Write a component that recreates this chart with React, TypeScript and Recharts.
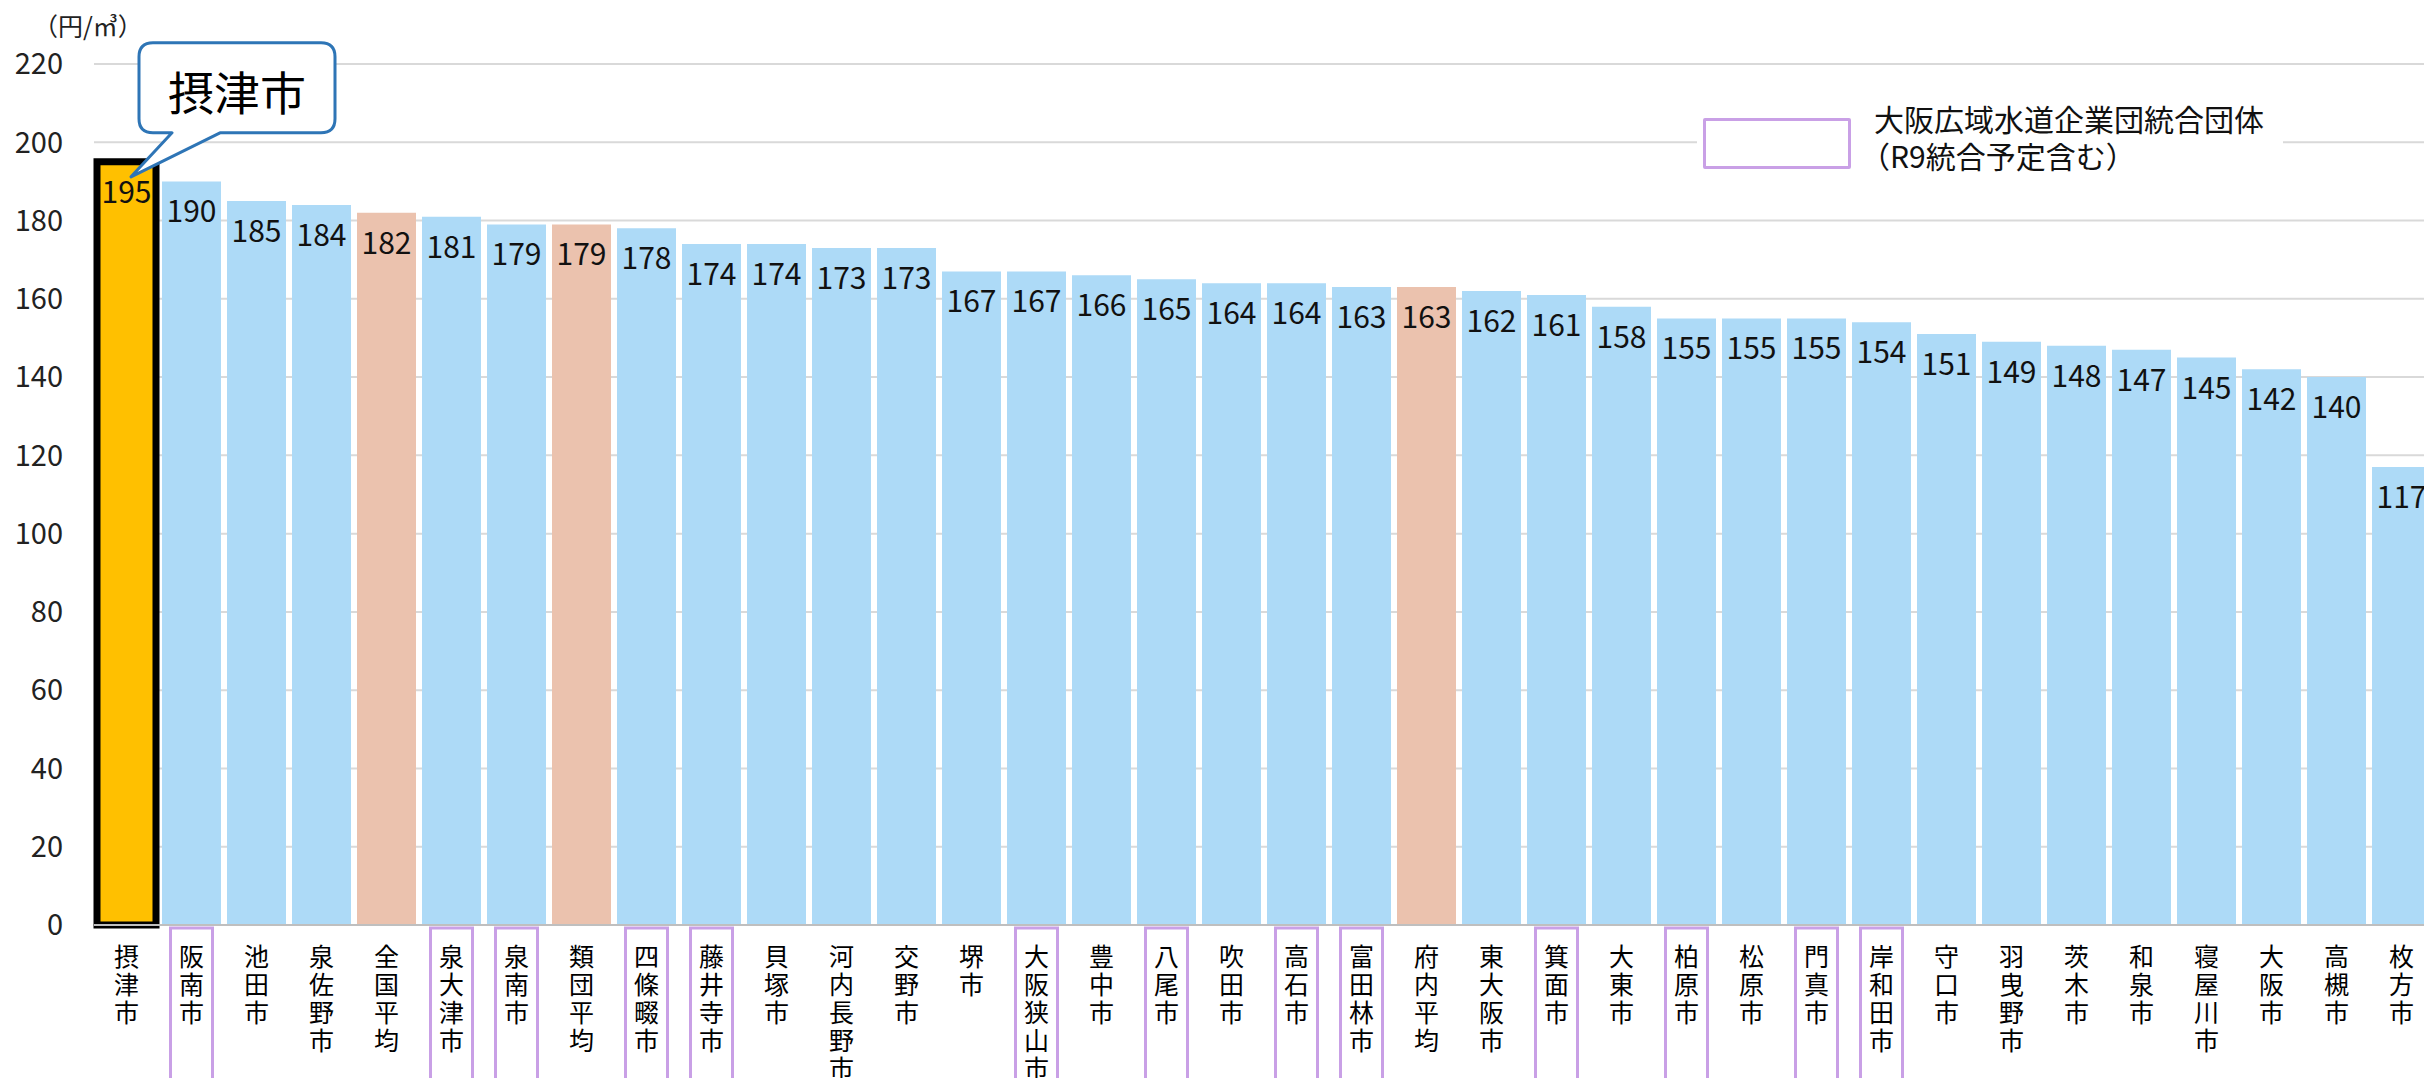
import React from 'react';
import { BarChart, Bar, XAxis, YAxis, CartesianGrid, Cell, LabelList } from 'recharts';

const categories = [
  '摂津市', '阪南市', '池田市', '泉佐野市', '全国平均', '泉大津市', '泉南市', '類団平均', '四條畷市',
  '藤井寺市', '貝塚市', '河内長野市', '交野市', '堺市', '大阪狭山市', '豊中市', '八尾市', '吹田市',
  '高石市', '富田林市', '府内平均', '東大阪市', '箕面市', '大東市', '柏原市', '松原市', '門真市',
  '岸和田市', '守口市', '羽曳野市', '茨木市', '和泉市', '寝屋川市', '大阪市', '高槻市', '枚方市',
];

const values = [
  195, 190, 185, 184, 182, 181, 179, 179, 178, 174, 174, 173, 173, 167, 167, 166, 165, 164,
  164, 163, 163, 162, 161, 158, 155, 155, 155, 154, 151, 149, 148, 147, 145, 142, 140, 117,
];

// 大阪広域水道企業団統合団体（R9統合予定含む）
const unified = [
  '阪南市', '泉大津市', '泉南市', '四條畷市', '藤井寺市', '大阪狭山市', '八尾市', '高石市',
  '富田林市', '箕面市', '柏原市', '門真市', '岸和田市',
];

const averages = ['全国平均', '類団平均', '府内平均'];
const target = '摂津市';

const yTicks = [0, 20, 40, 60, 80, 100, 120, 140, 160, 180, 200, 220];

const data = categories.map((name, i) => ({ name, value: values[i] }));

const FONT = '"Noto Sans CJK JP", "Noto Sans", sans-serif';
const PURPLE = '#C9A0E6';

if (typeof document !== 'undefined') {
  document.body.style.margin = '0';
  document.body.style.overflow = 'hidden';
}

const fillFor = (name: string) => {
  if (name === target) return '#FFC000';
  if (averages.includes(name)) return '#EBC2AE';
  return '#ADDAF7';
};

// stacked category label, one char per line; boxed when the city is in the unified group
const CategoryTick = (props: any) => {
  const { x, y, payload } = props;
  const name: string = payload.value;
  const chars = name.split('');
  return (
    <g>
      {unified.includes(name) && (
        <rect x={x - 21} y={y + 3} width={42} height={200} fill="none" stroke={PURPLE} strokeWidth={3} />
      )}
      {chars.map((c, i) => (
        <text
          key={i}
          x={x}
          y={y + 30 + i * 28}
          textAnchor="middle"
          dominantBaseline="central"
          fontSize={25}
          fontFamily={FONT}
          fill="#000"
        >
          {c}
        </text>
      ))}
    </g>
  );
};

const ValueLabel = (props: any) => {
  const { x, y, width, value, index } = props;
  const cx = x + width / 2;
  return (
    <g>
      <text
        x={cx}
        y={y + 28}
        textAnchor="middle"
        dominantBaseline="central"
        fontSize={30}
        fontFamily={FONT}
        fill="#111"
      >
        {value}
      </text>
      {index === 0 && (
        <g>
          <path
            d={`M ${x + 56} ${y - 119} H ${x + 224} Q ${x + 238} ${y - 119} ${x + 238} ${y - 105}
                V ${y - 43} Q ${x + 238} ${y - 29} ${x + 224} ${y - 29} H ${x + 123}
                L ${x + 34} ${y + 15} L ${x + 75} ${y - 29} H ${x + 56}
                Q ${x + 42} ${y - 29} ${x + 42} ${y - 43} V ${y - 105}
                Q ${x + 42} ${y - 119} ${x + 56} ${y - 119} Z`}
            fill="#fff"
            stroke="#2E75B6"
            strokeWidth={3}
            strokeLinejoin="round"
          />
          <text
            x={x + 140}
            y={y - 72}
            textAnchor="middle"
            dominantBaseline="central"
            fontSize={46}
            fontFamily={FONT}
            fill="#000"
          >
            {target}
          </text>
        </g>
      )}
    </g>
  );
};

export default function App() {
  return (
    <div style={{ position: 'relative', width: 2424, height: 1078, overflow: 'hidden', background: '#fff' }}>
      <BarChart
        width={2440}
        height={1078}
        data={data}
        margin={{ top: 64, right: 6, left: 0, bottom: 0 }}
        barSize={59}
      >
        <CartesianGrid vertical={false} stroke="#D9D9D9" strokeWidth={2} />
        <XAxis
          dataKey="name"
          interval={0}
          height={153}
          tickLine={false}
          tickSize={0}
          tickMargin={0}
          axisLine={{ stroke: '#BFBFBF', strokeWidth: 2 }}
          tick={<CategoryTick />}
        />
        <YAxis
          width={94}
          domain={[0, 220]}
          ticks={yTicks}
          interval={0}
          axisLine={false}
          tickLine={false}
          tickSize={0}
          tickMargin={31}
          tick={{ fontSize: 29, fontFamily: FONT, fill: '#222' }}
        />
        <Bar dataKey="value" isAnimationActive={false}>
          {data.map((d) => (
            <Cell
              key={d.name}
              fill={fillFor(d.name)}
              stroke={d.name === target ? '#000' : 'none'}
              strokeWidth={d.name === target ? 7 : 0}
            />
          ))}
          <LabelList dataKey="value" content={<ValueLabel />} />
        </Bar>
      </BarChart>

      <div
        style={{
          position: 'absolute',
          left: 33,
          top: 9,
          fontSize: 25,
          fontFamily: FONT,
          color: '#222',
          lineHeight: '32px',
        }}
      >
        （円/㎥）
      </div>

      <div
        style={{
          position: 'absolute',
          left: 1697,
          top: 96,
          width: 586,
          height: 84,
          background: '#fff',
        }}
      >
        <div
          style={{
            position: 'absolute',
            left: 6,
            top: 22,
            width: 142,
            height: 45,
            border: `3px solid ${PURPLE}`,
            borderRadius: 2,
          }}
        />
        <div
          style={{
            position: 'absolute',
            left: 177,
            top: 4,
            fontSize: 30,
            fontFamily: FONT,
            color: '#111',
            lineHeight: '37px',
            whiteSpace: 'nowrap',
          }}
        >
          <div>大阪広域水道企業団統合団体</div>
          <div style={{ marginLeft: -14 }}>（R9統合予定含む）</div>
        </div>
      </div>
    </div>
  );
}
